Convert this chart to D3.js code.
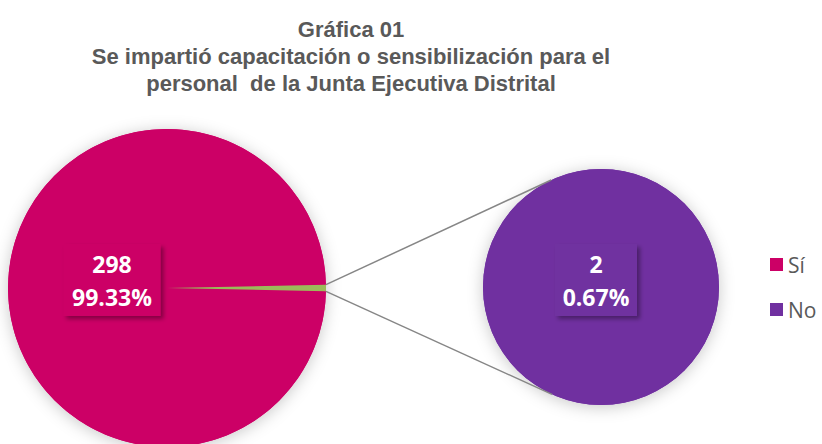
<!DOCTYPE html>
<html><head><meta charset="utf-8">
<script src="https://cdn.jsdelivr.net/npm/d3@7"></script>
<style>body{margin:0;background:#fff}svg{display:block}</style>
</head><body>
<svg id="c" width="822" height="444"></svg>
<script>
const titleLines = ["Gráfica 01","Se impartió capacitación o sensibilización para el","personal  de la Junta Ejecutiva Distrital"];
const categories = ["Sí","No"];
const values = [298, 2];
const colors = ["#CC0066","#7030A0"];
const otherColor = "#9BBB59";

const svg = d3.select("#c");
const defs = svg.append("defs");
const glow = defs.append("filter").attr("id","glow").attr("x","-30%").attr("y","-30%").attr("width","160%").attr("height","160%");
glow.append("feDropShadow").attr("dx",0).attr("dy",2).attr("stdDeviation",8).attr("flood-color","#000").attr("flood-opacity",0.22);
const bsh = defs.append("filter").attr("id","bsh").attr("x","-20%").attr("y","-20%").attr("width","150%").attr("height","150%");
bsh.append("feDropShadow").attr("dx",3).attr("dy",3).attr("stdDeviation",2).attr("flood-color","#000").attr("flood-opacity",0.35);

// Title
const title = svg.append("text").attr("text-anchor","middle")
  .style("font-family","'Liberation Sans', Arial, sans-serif").attr("font-weight","bold")
  .style("white-space","pre")
  .attr("font-size",22).attr("fill","#595959");
titleLines.forEach((t,i)=> title.append("tspan").attr("x",351).attr("y",37+i*27).text(t));

const total = d3.sum(values);
const fmt = d3.format(".2f");

// Main pie: first category plus "other" slice holding the rest
const main = {cx:167, cy:288, r:159};
const sec = {cx:601, cy:287, r:118};
const otherVal = d3.sum(values.slice(1));
const otherAng = otherVal/total*2*Math.PI;
const pie = d3.pie().sort(null).value(d=>d.v)
  .startAngle(Math.PI/2 + otherAng/2).endAngle(Math.PI/2 + otherAng/2 + 2*Math.PI);
const mainData = pie([{v:values[0], c:colors[0]},{v:otherVal, c:otherColor}]);
const arc = d3.arc().innerRadius(0).outerRadius(main.r);

const gMain = svg.append("g").attr("transform",`translate(${main.cx},${main.cy})`);
gMain.append("circle").attr("r",main.r).attr("fill",colors[0]).attr("filter","url(#glow)");
gMain.selectAll("path").data(mainData).join("path").attr("d",arc).attr("fill",d=>d.data.c);

// Secondary pie
const secPie = d3.pie().sort(null).value(d=>d)(values.slice(1));
const arc2 = d3.arc().innerRadius(0).outerRadius(sec.r);
const gSec = svg.append("g").attr("transform",`translate(${sec.cx},${sec.cy})`);
gSec.append("circle").attr("r",sec.r).attr("fill",colors[1]).attr("filter","url(#glow)");
gSec.selectAll("path").data(secPie).join("path").attr("d",arc2).attr("fill",(d,i)=>colors[1+i]);

// Connector lines: from the outer corners of the "other" slice, tangent to the second pie
const od = mainData[1];
function corner(a){return [main.cx + main.r*Math.sin(a), main.cy - main.r*Math.cos(a)];}
function tangent(p, sign){
  const dx = p[0]-sec.cx, dy = p[1]-sec.cy, d = Math.hypot(dx,dy);
  const base = Math.atan2(dy,dx), th = Math.acos(sec.r/d);
  const a = base + sign*th;
  return [sec.cx + sec.r*Math.cos(a), sec.cy + sec.r*Math.sin(a)];
}
const pTop = corner(od.startAngle), pBot = corner(od.endAngle);
const lines = [[pTop, tangent(pTop, 1)],[pBot, tangent(pBot, -1)]];
svg.selectAll("line.conn").data(lines).join("line").attr("class","conn")
  .attr("x1",d=>d[0][0]).attr("y1",d=>d[0][1]).attr("x2",d=>d[1][0]).attr("y2",d=>d[1][1])
  .attr("stroke","#868686").attr("stroke-width",1.5);

// Data labels
const labels = [
  {x:112, w:97, c:colors[0], v:values[0]},
  {x:596, w:82, c:colors[1], v:values[1]}
];
labels.forEach(l=>{
  const g = svg.append("g");
  g.append("rect").attr("x",l.x-l.w/2).attr("y",244).attr("width",l.w).attr("height",72)
    .attr("fill",l.c).attr("filter","url(#bsh)");
  const t = g.append("text").attr("text-anchor","middle").attr("fill","#fff")
    .style("font-family","'Open Sans', sans-serif").attr("font-weight","bold").attr("font-size",23);
  t.append("tspan").attr("x",l.x).attr("y",273).text(l.v);
  t.append("tspan").attr("x",l.x).attr("y",306).text(fmt(l.v/total*100)+"%");
});

// Legend
const leg = svg.append("g");
categories.forEach((c,i)=>{
  const y = 265 + i*45;
  leg.append("rect").attr("x",770).attr("y",y-7).attr("width",13).attr("height",13).attr("fill",colors[i]);
  leg.append("text").attr("x",788).attr("y",y+8).style("font-family","'Open Sans', sans-serif")
    .attr("font-size",21).attr("fill","#595959").text(c);
});
</script>
</body></html>
